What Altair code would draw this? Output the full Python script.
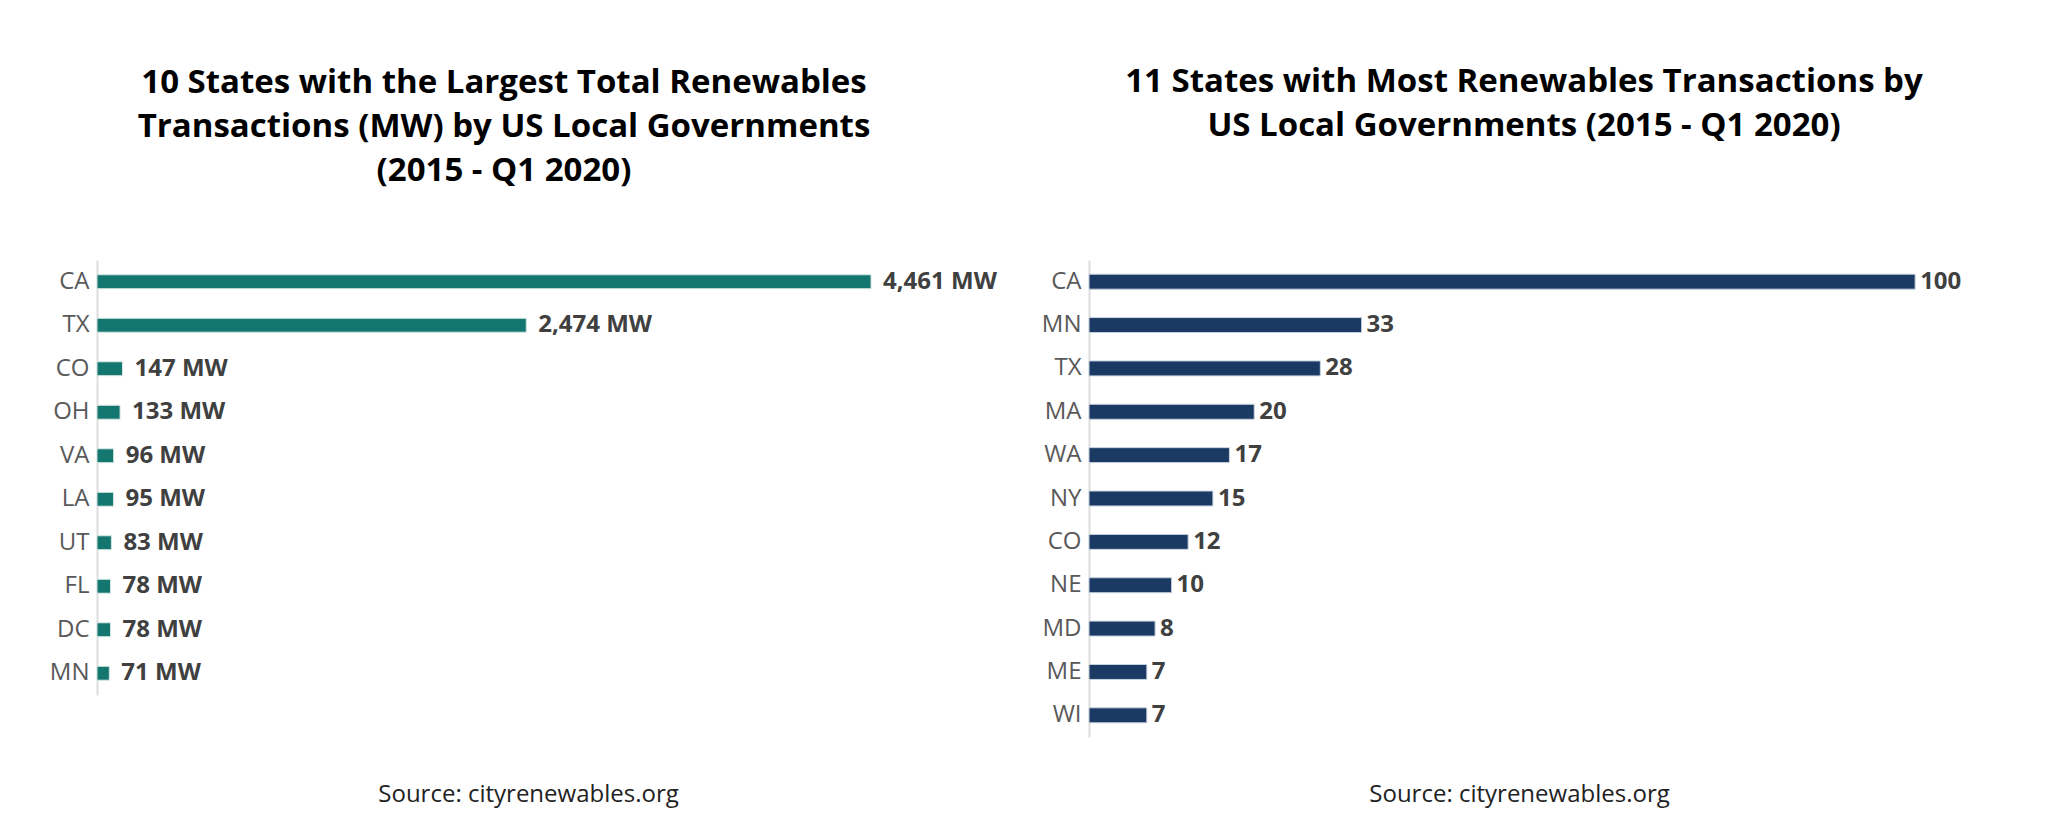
import altair as alt
import pandas as pd

mw_states = ["CA", "TX", "CO", "OH", "VA", "LA", "UT", "FL", "DC", "MN"]
mw_values = [4461, 2474, 147, 133, 96, 95, 83, 78, 78, 71]

tx_states = ["CA", "MN", "TX", "MA", "WA", "NY", "CO", "NE", "MD", "ME", "WI"]
tx_values = [100, 33, 28, 20, 17, 15, 12, 10, 8, 7, 7]

left_title = ["10 States with the Largest Total Renewables",
              "Transactions (MW) by US Local Governments",
              "(2015 - Q1 2020)"]
right_title = ["11 States with Most Renewables Transactions by",
               "US Local Governments (2015 - Q1 2020)"]
source = "Source: cityrenewables.org"

FONT = "Open Sans"
df_l = pd.DataFrame({"state": mw_states, "value": mw_values})
df_r = pd.DataFrame({"state": tx_states, "value": tx_values})


def panel(df, color, xmax, width, height, title, title_offset, title_dx, src_pad, fmt_suffix,
          dx, stroke, pin):
    y = alt.Y("state:N", sort=None,
              scale=alt.Scale(paddingInner=pin, paddingOuter=pin / 2),
              axis=alt.Axis(title=None, ticks=False, labelFont=FONT, labelFontSize=24,
                            labelColor="#595959", labelPadding=8, domainColor="#dddddd",
                            domainWidth=2, minExtent=60, maxExtent=60))
    x = alt.X("value:Q", scale=alt.Scale(domain=[0, xmax], nice=False),
              axis=alt.Axis(title=source, labels=False, ticks=False, domain=False, grid=False,
                            titleFont=FONT, titleFontSize=24, titleFontWeight="normal",
                            titleColor="#222222", titlePadding=src_pad))
    base = alt.Chart(df).transform_calculate(
        label="format(datum.value, ',')" + (" + ' MW'" if fmt_suffix else "")
    ).encode(y=y, x=x)
    bars = base.mark_bar(color=color, stroke=stroke, strokeWidth=1)
    text = base.mark_text(align="left", baseline="middle", dx=dx, font=FONT, fontSize=24,
                          fontWeight="bold", color="#404040").encode(text="label:N")
    return (bars + text).properties(
        width=width, height=height,
        title=alt.TitleParams(title, font=FONT, fontSize=33, fontWeight="bold", color="#000000",
                              anchor="middle", frame="group", offset=title_offset,
                              dx=title_dx, lineHeight=44)
    )


left = panel(df_l, "#13766F", 4968, 862, 435, left_title, 72, -24, 87, True, 12,
             "#d6e6e4", 0.68)
right = panel(df_r, "#1B3A63", 104.1, 860, 477, right_title, 117, 5, 45, False, 5,
              "#c9d3e0", 0.655)

chart = alt.hconcat(left, right, spacing=130, bounds="flush").properties(
    padding={"left": 37, "top": 66, "right": 10, "bottom": 10},
    background="white"
).configure_view(stroke=None)

chart.save("out.html", embed_options={"renderer": "svg", "actions": False})
